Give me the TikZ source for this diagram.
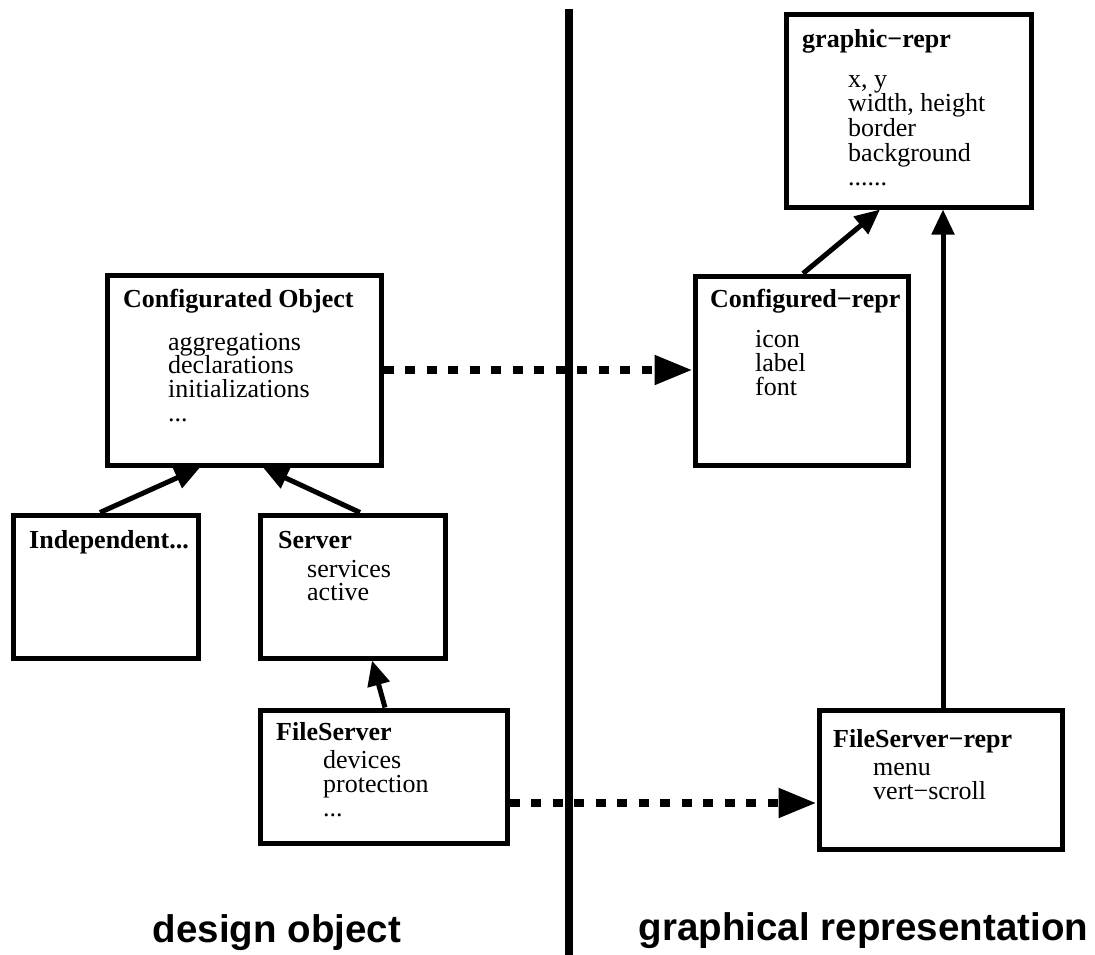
\documentclass[tikz,border=0pt]{standalone}
\usepackage{fontspec}
\setmainfont{Liberation Serif}
\newfontfamily\labfont{Liberation Sans}
\usetikzlibrary{arrows.meta,calc}
\begin{document}
\begin{tikzpicture}[x=1pt,y=-1pt,
  box/.style={draw,line width=5pt,inner sep=0pt,rectangle},
  txt/.style={anchor=base west,inner sep=0pt,font=\fontsize{26}{24}\selectfont},
  ttl/.style={anchor=base west,inner sep=0pt,font=\fontsize{26}{24}\selectfont\bfseries},
  conn/.style={line width=5pt,-{Triangle[length=25pt,width=22pt]}},
  dconn/.style={line width=8pt,dash pattern=on 10pt off 11.5pt,-{Triangle[length=38pt,width=28pt]}},
  caption/.style={anchor=base,inner sep=0pt,font=\labfont\bfseries\fontsize{38.5}{40}\selectfont},
  divider/.style={line width=8pt}]
\useasboundingbox (0,0) rectangle (1095,955);
\fill[white] (0,0) rectangle (1095,955);

% divider
\coordinate (vtop) at (569,9);
\coordinate (vbot) at (569,955);
\draw[divider] (vtop) -- (vbot);

% boxes
\node[box,minimum width=274pt,minimum height=190pt] (cobj) at (244,370) {};
\node[box,minimum width=185pt,minimum height=143pt] (indep) at (105.5,586.5) {};
\node[box,minimum width=185pt,minimum height=143pt] (server) at (352.5,586.5) {};
\node[box,minimum width=247pt,minimum height=133pt] (fserver) at (383.5,776.5) {};
\node[box,minimum width=245pt,minimum height=192pt] (grepr) at (908.5,111) {};
\node[box,minimum width=213pt,minimum height=189pt] (crepr) at (801.5,370.5) {};
\node[box,minimum width=243pt,minimum height=139pt] (fsrepr) at (940.5,779.5) {};

% texts
\node[ttl] (cobjT) at (123,307) {Configurated Object};
\node[txt] (cobj1) at (168,350) {aggregations};
\node[txt] (cobj2) at (168,373.5) {declarations};
\node[txt] (cobj3) at (168,397) {initializations};
\node[txt] (cobj4) at (168,421) {...};

\node[ttl] (indepT) at (29,548) {Independent...};

\node[ttl] (serverT) at (278,548) {Server};
\node[txt] (server1) at (307,577) {services};
\node[txt] (server2) at (307,600.5) {active};

\node[ttl] (fserverT) at (276,740) {FileServer};
\node[txt] (fserver1) at (323,768) {devices};
\node[txt] (fserver2) at (323,792) {protection};
\node[txt] (fserver3) at (323,816) {...};

\node[ttl] (greprT) at (802,48) {graphic−repr};
\node[txt] (grepr1) at (848,88) {x, y};
\node[txt] (grepr2) at (848,112) {width, height};
\node[txt] (grepr3) at (848,137) {border};
\node[txt] (grepr4) at (848,161) {background};
\node[txt] (grepr5) at (848,185) {......};

\node[ttl] (creprT) at (710,307) {Configured−repr};
\node[txt] (crepr1) at (755,347) {icon};
\node[txt] (crepr2) at (755,371) {label};
\node[txt] (crepr3) at (755,395) {font};

\node[ttl] (fsreprT) at (833,747) {FileServer−repr};
\node[txt] (fsrepr1) at (873,775) {menu};
\node[txt] (fsrepr2) at (873,799) {vert−scroll};

% captions
\node[caption] (capL) at (277,942) {design object};
\node[caption] (capR) at (863.5,940) {graphical representation};

% connectors
\draw[conn] ($(indep.north)+(-5.5,0)$) -- ($(cobj.south)+(-44,0)$);
\draw[conn] ($(server.north)+(7.5,0)$) -- ($(cobj.south)+(19,0)$);
\draw[conn] ($(fserver.north)+(1.5,0)$) -- ($(server.south)+(19.5,0)$);
\draw[conn] ($(crepr.north)+(1.5,0)$) -- ($(grepr.south)+(-28.5,0)$);
\coordinate (gtip) at ($(grepr.south)+(34.5,0)$);
\draw[conn] (fsrepr.north -| gtip) -- (gtip);

\draw[dconn] (cobj.east) -- (cobj.east -| crepr.west);
\coordinate (d2) at ($(fserver.east)+(0,26.5)$);
\draw[dconn] (d2) -- (d2 -| fsrepr.west);
\end{tikzpicture}
\end{document}
